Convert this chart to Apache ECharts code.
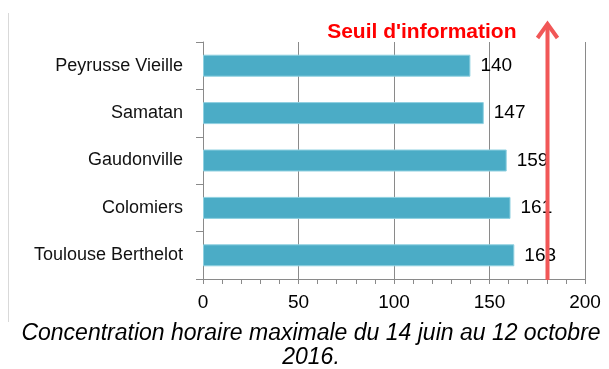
<!DOCTYPE html>
<html>
<head>
<meta charset="utf-8">
<script src="https://cdn.jsdelivr.net/npm/echarts@6/dist/echarts.min.js"></script>
<style>
  html, body { margin: 0; padding: 0; background: #fff; }
  #chart { width: 609px; height: 369px; }
</style>
</head>
<body>
<div id="chart"></div>
<script>
// Monitoring stations, listed top to bottom
const stations = ['Peyrusse Vieille', 'Samatan', 'Gaudonville', 'Colomiers', 'Toulouse Berthelot'];
// Maximum hourly concentration at each station
const maxHourly = [140, 147, 159, 161, 163];
// Information threshold and its caption
const thresholdValue = [180];
const thresholdLabel = "Seuil d'information";
// Value axis ticks
const axisMin = 0;
const axisMax = 200;
const axisStep = 50;
const chartTitle = 'Concentration horaire maximale du 14 juin au 12 octobre\n2016.';

const FONT = '"Liberation Sans", Arial, sans-serif';
const chart = echarts.init(document.getElementById('chart'), null, { renderer: 'canvas' });

chart.setOption({
  animation: false,
  backgroundColor: '#ffffff',
  title: {
    text: chartTitle,
    left: 311,
    top: 322,
    textAlign: 'center',
    padding: 0,
    textStyle: {
      fontFamily: FONT,
      fontStyle: 'italic',
      fontWeight: 'normal',
      fontSize: 23,
      lineHeight: 24,
      color: '#000'
    }
  },
  graphic: [{
    type: 'line',
    shape: { x1: 8.5, y1: 13, x2: 8.5, y2: 322 },
    style: { stroke: '#d9d9d9', lineWidth: 1 },
    silent: true
  }],
  grid: { left: 203, right: 24, top: 42, bottom: 90, containLabel: false },
  xAxis: {
    type: 'value',
    min: axisMin,
    max: axisMax,
    interval: axisStep,
    axisLine: { show: true, lineStyle: { color: '#8a8a8a', width: 1 } },
    axisTick: { show: true, length: 5, lineStyle: { color: '#8a8a8a' } },
    minorTick: { show: true, splitNumber: 5, length: 5, lineStyle: { color: '#8a8a8a' } },
    splitLine: { show: true, lineStyle: { color: '#8a8a8a', width: 1 } },
    axisLabel: { fontFamily: FONT, fontSize: 19, color: '#000', margin: 14 }
  },
  yAxis: {
    type: 'category',
    inverse: true,
    data: stations,
    axisLine: { show: true, lineStyle: { color: '#8a8a8a', width: 1 } },
    axisTick: { show: true, length: 7, lineStyle: { color: '#8a8a8a' } },
    axisLabel: { fontFamily: FONT, fontSize: 18, color: '#111', margin: 20 }
  },
  series: [
    {
      type: 'bar',
      data: maxHourly,
      barWidth: 22,
      itemStyle: { color: '#4BACC6', borderColor: '#8fd0e0', borderWidth: 1 },
      label: {
        show: true,
        position: 'right',
        distance: 10,
        fontFamily: FONT,
        fontSize: 19,
        color: '#000'
      },
      z: 2
    },
    {
      // Threshold arrow drawn from the value axis position of the threshold
      type: 'custom',
      data: thresholdValue.map(v => [v]),
      encode: { x: 0 },
      z: 5,
      silent: true,
      renderItem: function (params, api) {
        const cs = params.coordSys;
        const x = Math.round(api.coord([api.value(0), 0])[0]) + 0.5;
        const bottom = cs.y + cs.height + 1;
        const tip = cs.y - 19;
        const color = '#F15757';
        return {
          type: 'group',
          children: [
            {
              type: 'line',
              shape: { x1: x, y1: bottom, x2: x, y2: tip + 3 },
              style: { stroke: color, lineWidth: 4 }
            },
            {
              type: 'polyline',
              shape: { points: [[x - 10, tip + 15], [x, tip + 1], [x + 10, tip + 15]] },
              style: { stroke: color, lineWidth: 4, fill: null, lineJoin: 'miter', lineCap: 'butt' }
            },
            {
              type: 'text',
              style: {
                text: thresholdLabel,
                x: x - 31,
                y: cs.y - 10,
                align: 'right',
                verticalAlign: 'middle',
                fontFamily: FONT,
                fontWeight: 'bold',
                fontSize: 21,
                fill: '#FF0000'
              }
            }
          ]
        };
      }
    }
  ]
});
</script>
</body>
</html>
